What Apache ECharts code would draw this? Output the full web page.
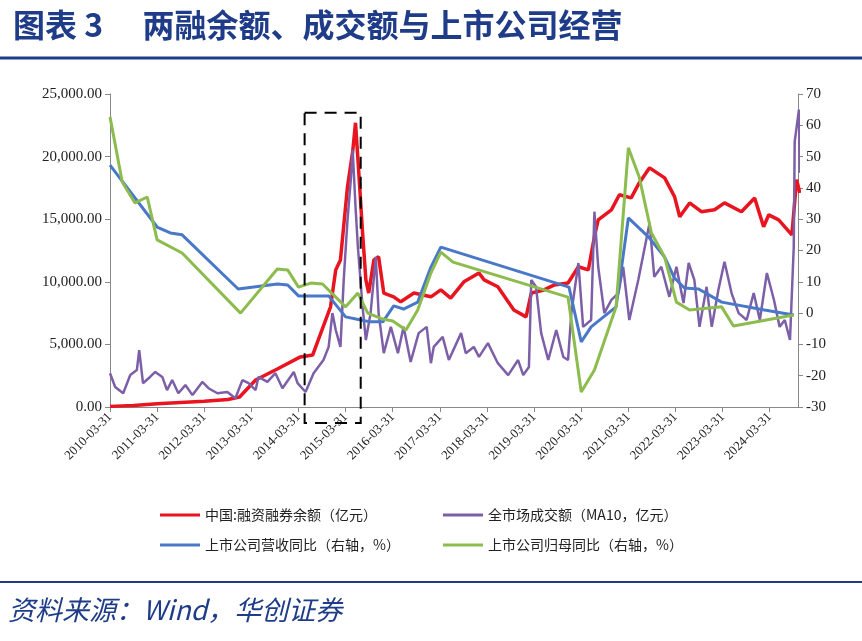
<!DOCTYPE html>
<html><head><meta charset="utf-8">
<script src="https://cdn.jsdelivr.net/npm/echarts@6/dist/echarts.min.js"></script>
<style>html,body{margin:0;padding:0;background:#fff}#c{width:862px;height:641px}</style>
</head><body><div id="c"></div>
<script>
// x = years since 2010-03-31
const xTickLabels = ['2010-03-31','2011-03-31','2012-03-31','2013-03-31','2014-03-31','2015-03-31','2016-03-31','2017-03-31','2018-03-31','2019-03-31','2020-03-31','2021-03-31','2022-03-31','2023-03-31','2024-03-31'];

const marginX = [0,0.5,1,1.5,2,2.5,2.75,3.09,3.55,4.04,4.3,4.68,4.79,4.89,5.04,5.15,5.21,5.28,5.36,5.43,5.49,5.6,5.7,5.81,6.02,6.17,6.45,6.81,7.02,7.23,7.51,7.83,7.94,8.23,8.57,8.83,8.94,9.21,9.43,9.72,9.94,10.15,10.28,10.36,10.64,10.81,11.06,11.23,11.45,11.77,11.98,12.09,12.3,12.55,12.83,13.04,13.4,13.68,13.87,13.98,14.19,14.47,14.57,14.64];
const marginY = [50,120,250,350,450,600,800,2160,3040,4000,4150,8000,10950,11750,17600,20400,22700,18700,13900,10150,9100,11750,12000,9100,8800,8400,9100,8800,9350,8700,10000,10700,10150,9600,7750,7200,9100,9350,9750,9900,11200,10950,13600,14950,15750,16950,16700,17900,19100,18300,16800,15200,16300,15600,15750,16300,15600,16700,14400,15350,14950,13750,18150,17100];

const turnX = [0,0.11,0.28,0.43,0.57,0.62,0.7,0.85,0.96,1.11,1.21,1.32,1.45,1.6,1.75,1.96,2.09,2.28,2.49,2.66,2.81,2.94,3.09,3.15,3.34,3.51,3.66,3.9,3.98,4.15,4.32,4.53,4.64,4.72,4.79,4.89,4.96,5.04,5.11,5.15,5.21,5.26,5.36,5.43,5.53,5.64,5.7,5.81,5.96,6.11,6.23,6.38,6.55,6.72,6.81,6.87,7.06,7.19,7.45,7.55,7.72,7.83,8.02,8.23,8.45,8.66,8.77,8.89,8.94,9.04,9.15,9.3,9.47,9.62,9.72,9.79,9.94,10.04,10.21,10.28,10.36,10.49,10.64,10.79,10.89,11.02,11.21,11.38,11.45,11.55,11.7,11.87,12.02,12.17,12.28,12.4,12.51,12.66,12.77,12.91,13.04,13.19,13.34,13.51,13.66,13.79,13.94,14.09,14.21,14.32,14.43,14.51,14.53,14.62,14.64];
const turnY = [2700,1600,1100,2550,2950,4550,1900,2400,2800,2400,1350,2150,1100,1750,950,2000,1500,1100,1200,700,2150,1900,1350,2400,2000,2700,1500,2800,1900,1200,2700,3750,4800,7500,6150,4800,10150,14950,18150,20550,16000,12800,8000,5350,7500,12000,7500,4300,6400,4300,6400,3600,5900,6400,3500,4800,5600,3750,5900,4300,4800,4000,5100,3500,2550,3750,2550,3200,10150,9600,5900,3750,6150,4000,3750,7500,11500,6400,6950,15600,11200,7500,8550,9100,11200,6950,10150,13350,14700,10400,11200,8800,11200,8300,11500,10150,6400,9600,6400,9350,11600,9100,7500,6950,9100,6950,10700,8550,6400,6950,5350,12800,21200,23750,18700];

const revX = [0,1.0,1.28,1.53,2.72,3.55,3.77,4.0,4.64,5.0,5.32,5.53,5.79,6.02,6.23,6.53,6.81,7.02,9.74,10.0,10.21,10.74,11.0,11.43,11.77,11.98,12.19,12.49,12.98,13.89,14.51];
const revY = [47.3,27.5,25.6,25,7.7,9.3,9,5.5,5.5,-1.2,-2.2,-2.8,-2.8,2.3,1.3,3.5,14.7,21.1,8.3,-9.2,-4.4,2,30.4,24.3,17.9,11.2,8,7.7,3.5,1,-0.6];

const profX = [0,0.26,0.53,0.79,1.0,1.53,2.77,3.55,3.77,4.0,4.26,4.51,5.0,5.26,5.47,5.79,6.0,6.28,6.53,6.81,7.02,7.28,9.72,10.0,10.28,10.74,11.0,11.23,11.49,11.77,12.02,12.3,12.98,13.23,14.51];
const profY = [62.7,41.9,35.2,37.1,23.4,19.2,0,14.1,13.8,8.3,9.6,9.3,2,6.4,0,-1.9,-2.5,-5.4,1,12.8,19.5,16.3,5.1,-25.2,-18.2,2,52.8,43.5,25.6,17.9,3.5,1,2,-4.1,-0.6];

const zip = (a,b)=>a.map((v,i)=>[v,b[i]]);
const serif = 'Liberation Serif, Times New Roman, serif';
const chart = echarts.init(document.getElementById('c'));
const lineS = (name,x,y,color,yi,w)=>({name,type:'line',data:zip(x,y),yAxisIndex:yi,showSymbol:false,symbol:'none',lineStyle:{color,width:w},itemStyle:{color},animation:false});
const lgText = {fontFamily:'Noto Sans CJK SC',fontSize:14,color:'#222'};
chart.setOption({
  animation:false,
  title:{text:'图表 3　 两融余额、成交额与上市公司经营',left:8,top:4,textStyle:{fontFamily:'Noto Sans CJK SC',fontSize:32,fontWeight:'bold',color:'#1f3c88'}},
  grid:{left:110,right:64,top:94,bottom:234},
  xAxis:{type:'value',min:0,max:14.6,interval:1,splitLine:{show:false},
    axisLine:{lineStyle:{color:'#888'}},axisTick:{lineStyle:{color:'#888'}},
    axisLabel:{rotate:45,fontFamily:serif,fontSize:13,color:'#222',showMaxLabel:false,formatter:v=>xTickLabels[Math.round(v)]||''}},
  yAxis:[
    {type:'value',min:0,max:25000,interval:5000,splitLine:{show:false},axisLine:{show:true,lineStyle:{color:'#888'}},axisTick:{show:true},
     axisLabel:{fontFamily:serif,fontSize:15,color:'#222',formatter:v=>v.toLocaleString('en-US',{minimumFractionDigits:2})}},
    {type:'value',min:-30,max:70,interval:10,splitLine:{show:false},axisLine:{show:true,lineStyle:{color:'#888'}},axisTick:{show:true},
     axisLabel:{fontFamily:serif,fontSize:15,color:'#222'}}
  ],
  legend:[
    {orient:'vertical',left:155,top:503,itemGap:16,itemWidth:40,itemHeight:3,icon:'rect',data:['中国:融资融券余额（亿元）','上市公司营收同比（右轴，%）'],textStyle:lgText},
    {orient:'vertical',left:438,top:503,itemGap:16,itemWidth:40,itemHeight:3,icon:'rect',data:['全市场成交额（MA10，亿元）','上市公司归母同比（右轴，%）'],textStyle:lgText}
  ],
  series:[
    lineS('中国:融资融券余额（亿元）',marginX,marginY,'#e8141f',0,3.5),
    lineS('全市场成交额（MA10，亿元）',turnX,turnY,'#7d5fa8',0,2.5),
    lineS('上市公司营收同比（右轴，%）',revX,revY,'#4a78c8',1,3),
    lineS('上市公司归母同比（右轴，%）',profX,profY,'#8cbb4e',1,3)
  ]
});
const p1 = chart.convertToPixel({gridIndex:0},[4.13,23500]);
const p2 = chart.convertToPixel({gridIndex:0},[5.32,0]);
chart.setOption({graphic:[
  {type:'line',shape:{x1:0,y1:58,x2:862,y2:58},style:{stroke:'#1f3c88',lineWidth:3}},
  {type:'line',shape:{x1:0,y1:582,x2:862,y2:582},style:{stroke:'#1f3c88',lineWidth:2}},
  {type:'rect',shape:{x:p1[0],y:p1[1],width:p2[0]-p1[0],height:p2[1]+16-p1[1]},style:{fill:'none',stroke:'#000',lineWidth:2,lineDash:[12,8]},z:10},
  {type:'text',left:8,top:596,style:{text:'资料来源：Wind，华创证券',fontFamily:'Noto Sans CJK SC',fontSize:27,fontStyle:'italic',fill:'#1f3c88'}}
]});
</script></body></html>
